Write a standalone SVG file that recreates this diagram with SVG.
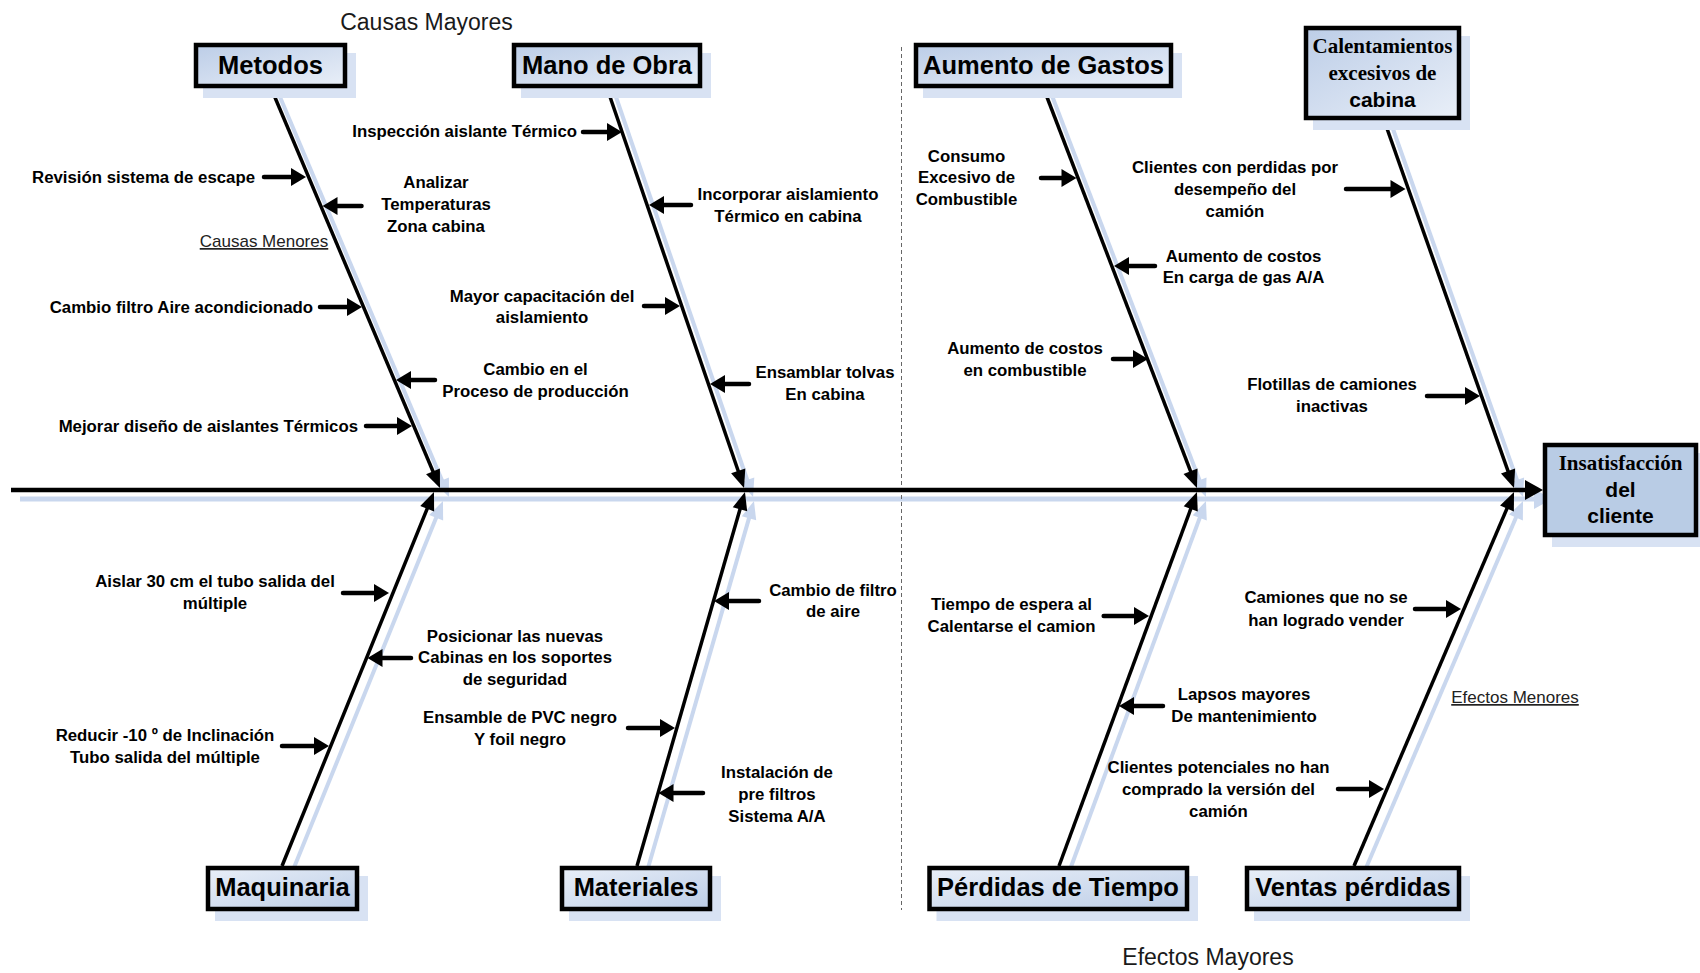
<svg xmlns="http://www.w3.org/2000/svg" width="1700" height="973" viewBox="0 0 1700 973">
<style>
.lbl{font-family:"Liberation Sans",Arial,sans-serif;font-weight:bold;font-size:16.8px;fill:#000}
.c{text-anchor:middle}
.e{text-anchor:end}
.ttl{font-family:"Liberation Sans",Arial,sans-serif;font-weight:bold;font-size:25.5px;fill:#000;text-anchor:middle}
.srf{font-family:"Liberation Serif","Times New Roman",serif;font-weight:bold;font-size:21px;fill:#000;text-anchor:middle}
.sns{font-family:"Liberation Sans",Arial,sans-serif;font-weight:bold;font-size:21px;fill:#000;text-anchor:middle}
.reg{font-family:"Liberation Sans",Arial,sans-serif;font-size:23px;fill:#1a1a1a;text-anchor:middle}
.minor{font-family:"Liberation Sans",Arial,sans-serif;font-size:17px;fill:#222;text-anchor:middle;text-decoration:underline}
.box{stroke:#000;stroke-width:4.5}
.bshadow{fill:#d8e2f3}
.bone{stroke:#000;stroke-width:3.5;fill:none;marker-end:url(#bh)}
.bones{stroke:#c9d7ee;stroke-width:4;fill:none;marker-end:url(#bhs)}
.sa{stroke:#000;stroke-width:4.5;stroke-linecap:round;fill:none;marker-end:url(#sah)}
</style>
<defs>
<linearGradient id="gtop" x1="0" y1="0" x2="1" y2="1">
<stop offset="0" stop-color="#bccde7"/><stop offset="1" stop-color="#e9eff8"/>
</linearGradient>
<linearGradient id="gbot" x1="0" y1="0" x2="1" y2="1">
<stop offset="0" stop-color="#e9eff8"/><stop offset="1" stop-color="#bccde7"/>
</linearGradient>
<marker id="bh" markerUnits="userSpaceOnUse" markerWidth="18" markerHeight="15" refX="8" refY="7.5" orient="auto" overflow="visible">
<path d="M0,0 L18,7.5 L0,15 z" fill="#000"/>
</marker>
<marker id="bhs" markerUnits="userSpaceOnUse" markerWidth="18" markerHeight="15" refX="8" refY="7.5" orient="auto" overflow="visible">
<path d="M0,0 L18,7.5 L0,15 z" fill="#c9d7ee"/>
</marker>
<marker id="sah" markerUnits="userSpaceOnUse" markerWidth="15" markerHeight="18" refX="7" refY="9" orient="auto" overflow="visible">
<path d="M0,0 L15,9 L0,18 z" fill="#000"/>
</marker>
</defs>
<rect width="1700" height="973" fill="#fff"/>

<!-- shadows of connectors -->
<g id="connector-shadows" transform="translate(9,9)">
<line x1="11" y1="490" x2="1525" y2="490" stroke="#c9d7ee" stroke-width="5"/>
<path d="M1525,480 L1543,490 L1525,500 z" fill="#c9d7ee"/>
<line class="bones" x1="271" y1="88" x2="436.1" y2="478.8"/>
<line class="bones" x1="607" y1="88" x2="740.8" y2="478.5"/>
<line class="bones" x1="1043.5" y1="88" x2="1193.4" y2="478.7"/>
<line class="bones" x1="1384" y1="120" x2="1510.7" y2="478.6"/>
<line class="bones" x1="282" y1="866" x2="430.2" y2="501.3"/>
<line class="bones" x1="637" y1="866" x2="742.2" y2="501.6"/>
<line class="bones" x1="1059" y1="866" x2="1193.5" y2="501.4"/>
<line class="bones" x1="1354" y1="866" x2="1510.1" y2="501.2"/>
</g>

<!-- dashed separator -->
<line x1="901.5" y1="47" x2="901.5" y2="910" stroke="#666" stroke-width="1" stroke-dasharray="4,3"/>

<!-- connectors -->
<g id="connectors">
<line x1="11" y1="490" x2="1526" y2="490" stroke="#000" stroke-width="4.5"/>
<path d="M1525,480 L1543,490 L1525,500 z" fill="#000"/>
<line class="bone" x1="271" y1="88" x2="436.1" y2="478.8"/>
<line class="bone" x1="607" y1="88" x2="740.8" y2="478.5"/>
<line class="bone" x1="1043.5" y1="88" x2="1193.4" y2="478.7"/>
<line class="bone" x1="1384" y1="120" x2="1510.7" y2="478.6"/>
<line class="bone" x1="282" y1="866" x2="430.2" y2="501.3"/>
<line class="bone" x1="637" y1="866" x2="742.2" y2="501.6"/>
<line class="bone" x1="1059" y1="866" x2="1193.5" y2="501.4"/>
<line class="bone" x1="1354" y1="866" x2="1510.1" y2="501.2"/>
<!-- minor arrows -->
<line class="sa" x1="264" y1="177" x2="298" y2="177"/>
<line class="sa" x1="361.5" y1="206" x2="330.5" y2="206"/>
<line class="sa" x1="320" y1="307" x2="354" y2="307"/>
<line class="sa" x1="435" y1="380" x2="404" y2="380"/>
<line class="sa" x1="366" y1="426" x2="404" y2="426"/>
<line class="sa" x1="583" y1="132" x2="614" y2="132"/>
<line class="sa" x1="691" y1="205" x2="657" y2="205"/>
<line class="sa" x1="644" y1="306" x2="672" y2="306"/>
<line class="sa" x1="749" y1="384" x2="718" y2="384"/>
<line class="sa" x1="1041" y1="178" x2="1068.5" y2="178"/>
<line class="sa" x1="1346" y1="189" x2="1397.5" y2="189"/>
<line class="sa" x1="1155" y1="266" x2="1122" y2="266"/>
<line class="sa" x1="1113" y1="359" x2="1140" y2="359"/>
<line class="sa" x1="1427" y1="396" x2="1472" y2="396"/>
<line class="sa" x1="343" y1="593" x2="381" y2="593"/>
<line class="sa" x1="411" y1="658" x2="375.5" y2="658"/>
<line class="sa" x1="282" y1="746" x2="321" y2="746"/>
<line class="sa" x1="628" y1="728" x2="667" y2="728"/>
<line class="sa" x1="759" y1="601" x2="722" y2="601"/>
<line class="sa" x1="703" y1="793" x2="666.5" y2="793"/>
<line class="sa" x1="1103.7" y1="616" x2="1141" y2="616"/>
<line class="sa" x1="1415" y1="609" x2="1453" y2="609"/>
<line class="sa" x1="1163" y1="706" x2="1127" y2="706"/>
<line class="sa" x1="1338" y1="789" x2="1376" y2="789"/>
</g>

<!-- major nodes -->
<g id="node-metodos">
<rect class="bshadow" x="203" y="53" width="153" height="45"/>
<rect class="box" x="196" y="45" width="149" height="41" fill="url(#gtop)"/>
<text class="ttl" x="270.5" y="74">Metodos</text>
</g>
<g id="node-mano-de-obra">
<rect class="bshadow" x="521" y="53" width="190" height="45"/>
<rect class="box" x="514" y="45" width="186" height="41" fill="url(#gtop)"/>
<text class="ttl" x="607" y="74">Mano de Obra</text>
</g>
<g id="node-aumento-gastos">
<rect class="bshadow" x="923" y="53" width="259" height="45"/>
<rect class="box" x="916" y="45" width="255" height="41" fill="url(#gtop)"/>
<text class="ttl" x="1043.5" y="74">Aumento de Gastos</text>
</g>
<g id="node-calentamientos">
<rect class="bshadow" x="1313" y="36" width="157" height="94"/>
<rect class="box" x="1306" y="28" width="153" height="90" fill="url(#gtop)"/>
<text class="srf" x="1382.5" y="53">Calentamientos</text>
<text class="srf" x="1382.5" y="80">excesivos de</text>
<text class="sns" x="1382.5" y="107">cabina</text>
</g>
<g id="node-insatisfaccion">
<rect class="bshadow" x="1552" y="453" width="155" height="94"/>
<rect class="box" x="1545" y="445" width="151" height="90" fill="#b9cce5"/>
<text class="srf" x="1620.5" y="470">Insatisfacción</text>
<text class="sns" x="1620.5" y="497">del</text>
<text class="sns" x="1620.5" y="523">cliente</text>
</g>
<g id="node-maquinaria">
<rect class="bshadow" x="215" y="876" width="153" height="45"/>
<rect class="box" x="208" y="868" width="149" height="41" fill="url(#gbot)"/>
<text class="ttl" x="282.5" y="896">Maquinaria</text>
</g>
<g id="node-materiales">
<rect class="bshadow" x="569" y="876" width="152" height="45"/>
<rect class="box" x="562" y="868" width="148" height="41" fill="url(#gbot)"/>
<text class="ttl" x="636" y="896">Materiales</text>
</g>
<g id="node-perdidas-tiempo">
<rect class="bshadow" x="936.5" y="876" width="261.5" height="45"/>
<rect class="box" x="929.5" y="868" width="257.5" height="41" fill="url(#gbot)"/>
<text class="ttl" x="1058" y="896">Pérdidas de Tiempo</text>
</g>
<g id="node-ventas-perdidas">
<rect class="bshadow" x="1254" y="876" width="216" height="45"/>
<rect class="box" x="1247" y="868" width="212" height="41" fill="url(#gbot)"/>
<text class="ttl" x="1353" y="896">Ventas pérdidas</text>
</g>

<!-- headings -->
<g id="heading-causas">
<text class="reg" x="426.5" y="30">Causas Mayores</text>
<text class="minor" x="264" y="247">Causas Menores</text>
</g>
<g id="heading-efectos">
<text class="reg" x="1208" y="965">Efectos Mayores</text>
<text class="minor" x="1515" y="703">Efectos Menores</text>
</g>

<!-- minor cause labels -->
<g id="labels-metodos" class="lbl">
<text class="e" x="255" y="183">Revisión sistema de escape</text>
<text class="c" x="436" y="188">Analizar</text>
<text class="c" x="436" y="210">Temperaturas</text>
<text class="c" x="436" y="232">Zona cabina</text>
<text class="e" x="313" y="313">Cambio filtro Aire acondicionado</text>
<text class="c" x="535.5" y="375">Cambio en el</text>
<text class="c" x="535.5" y="397">Proceso de producción</text>
<text class="e" x="358" y="432">Mejorar diseño de aislantes Térmicos</text>
</g>
<g id="labels-mano-obra" class="lbl">
<text class="e" x="577" y="137">Inspección aislante Térmico</text>
<text class="c" x="788" y="200">Incorporar aislamiento</text>
<text class="c" x="788" y="222">Térmico en cabina</text>
<text class="c" x="542" y="302">Mayor capacitación del</text>
<text class="c" x="542" y="323">aislamiento</text>
<text class="c" x="825" y="378">Ensamblar tolvas</text>
<text class="c" x="825" y="400">En cabina</text>
</g>
<g id="labels-aumento" class="lbl">
<text class="c" x="966.5" y="162">Consumo</text>
<text class="c" x="966.5" y="183">Excesivo de</text>
<text class="c" x="966.5" y="205">Combustible</text>
<text class="c" x="1243.5" y="262">Aumento de costos</text>
<text class="c" x="1243.5" y="283">En carga de gas A/A</text>
<text class="c" x="1025" y="354">Aumento de costos</text>
<text class="c" x="1025" y="376">en combustible</text>
</g>
<g id="labels-calentamientos" class="lbl">
<text class="c" x="1235" y="173">Clientes con perdidas por</text>
<text class="c" x="1235" y="195">desempeño del</text>
<text class="c" x="1235" y="217">camión</text>
<text class="c" x="1332" y="390">Flotillas de camiones</text>
<text class="c" x="1332" y="412">inactivas</text>
</g>
<g id="labels-maquinaria" class="lbl">
<text class="c" x="215" y="587">Aislar 30 cm el tubo salida del</text>
<text class="c" x="215" y="609">múltiple</text>
<text class="c" x="515" y="642">Posicionar las nuevas</text>
<text class="c" x="515" y="663">Cabinas en los soportes</text>
<text class="c" x="515" y="685">de seguridad</text>
<text class="c" x="165" y="741">Reducir -10 º de Inclinación</text>
<text class="c" x="165" y="763">Tubo salida del múltiple</text>
</g>
<g id="labels-materiales" class="lbl">
<text class="c" x="833" y="596">Cambio de filtro</text>
<text class="c" x="833" y="617">de aire</text>
<text class="c" x="520" y="723">Ensamble de PVC negro</text>
<text class="c" x="520" y="745">Y foil negro</text>
<text class="c" x="777" y="778">Instalación de</text>
<text class="c" x="777" y="800">pre filtros</text>
<text class="c" x="777" y="822">Sistema A/A</text>
</g>
<g id="labels-perdidas" class="lbl">
<text class="c" x="1011.5" y="610">Tiempo de espera al</text>
<text class="c" x="1011.5" y="632">Calentarse el camion</text>
<text class="c" x="1244" y="700">Lapsos mayores</text>
<text class="c" x="1244" y="722">De mantenimiento</text>
</g>
<g id="labels-ventas" class="lbl">
<text class="c" x="1326" y="603">Camiones que no se</text>
<text class="c" x="1326" y="626">han logrado vender</text>
<text class="c" x="1218.5" y="773">Clientes potenciales no han</text>
<text class="c" x="1218.5" y="795">comprado la versión del</text>
<text class="c" x="1218.5" y="817">camión</text>
</g>
</svg>
